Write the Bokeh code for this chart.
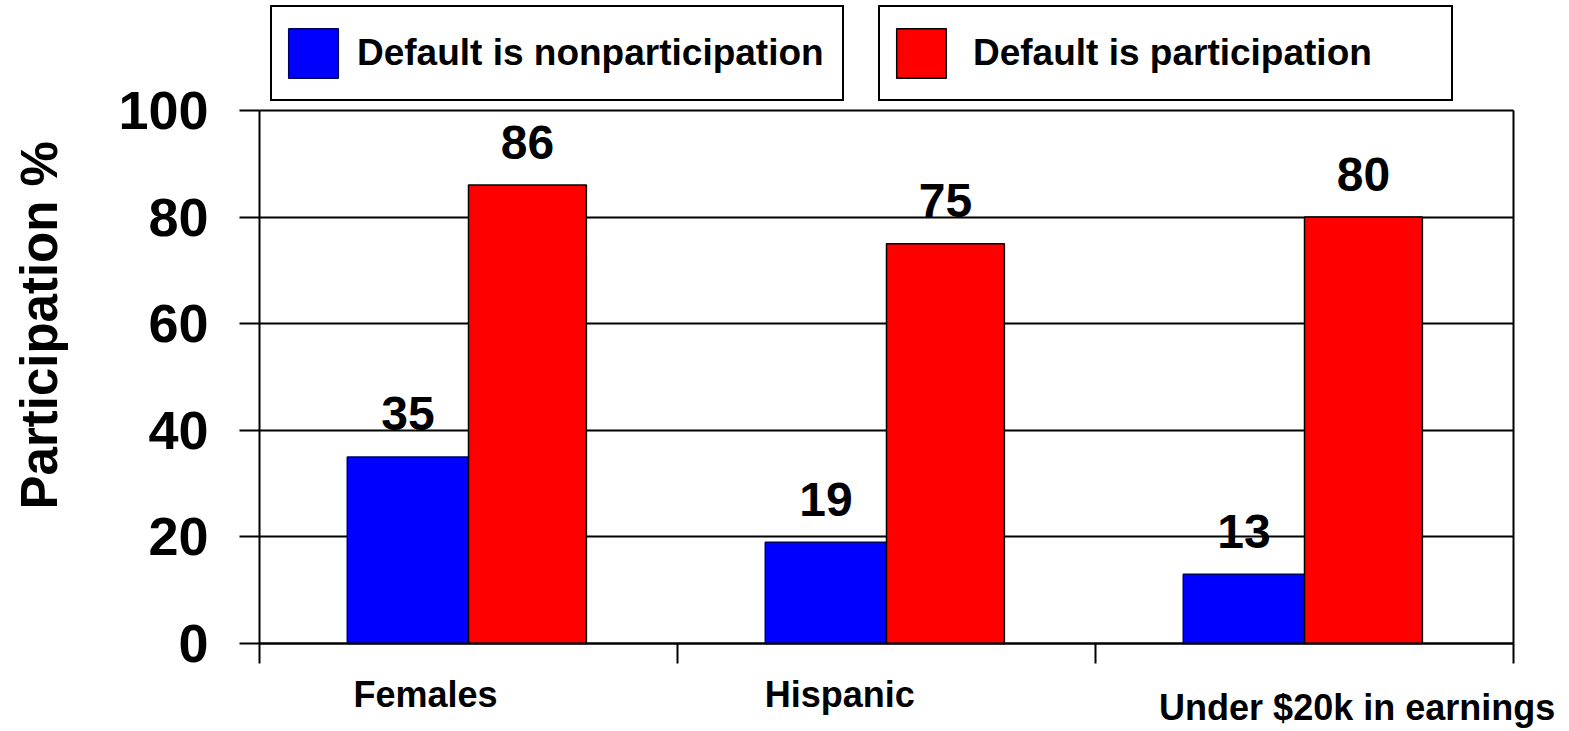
import math
from bokeh.plotting import figure
from bokeh.models import (Range1d, FixedTicker, Legend, LegendItem, LinearAxis,
                          ColumnDataSource)
from bokeh.core.properties import value
from bokeh.embed import file_html
from bokeh.resources import INLINE

# --- data -------------------------------------------------------------
categories = ["Females", "Hispanic", "Under $20k in earnings"]
default_nonparticipation = [35, 19, 13]
default_participation = [86, 75, 80]
y_ticks = [0, 20, 40, 60, 80, 100]
series_names = ["Default is nonparticipation", "Default is participation"]
y_title = "Participation %"

# --- layout -----------------------------------------------------------
W, H = 1569, 731
# plot box in canvas pixels: left, right, top, bottom
BOX_L, BOX_R, BOX_T, BOX_B = 259, 1513, 110, 643
n_cat = len(categories)
y_max = y_ticks[-1]
px_x = (BOX_R - BOX_L) / n_cat
px_y = (BOX_B - BOX_T) / y_max

centers = [i + 0.5 for i in range(n_cat)]
blue_w, red_w = 0.29, 0.282
cat_label_dx = [-0.103, -0.112, 0.126]      # horizontal nudges of the category names
cat_label_y = [-9.6, -9.6, -12.0]            # baseline of the category names (data units)

FONT = "Liberation Sans"

# the frame fills the whole canvas; axes are pinned to the plot box
p = figure(width=W, height=H,
           x_range=Range1d(-BOX_L / px_x, n_cat + (W - BOX_R) / px_x),
           y_range=Range1d(-(H - BOX_B) / px_y, y_max + BOX_T / px_y),
           output_backend="svg", toolbar_location=None, min_border=0)
p.background_fill_color = "white"
p.border_fill_color = "white"
p.outline_line_color = None

# horizontal grid lines (the one at 100 closes the box on top)
p.xgrid.visible = False
yg = p.ygrid[0]
if "cross_bounds" in yg.properties():
    yg.ticker = FixedTicker(ticks=y_ticks)
    yg.cross_bounds = (0, n_cat)
    yg.grid_line_color = "black"
    yg.grid_line_width = 2
else:
    yg.visible = False
    p.segment(x0=0, x1=n_cat, y0=y_ticks, y1=y_ticks,
              line_color="black", line_width=2)

# bars
src_np = ColumnDataSource(dict(
    x=[c - blue_w / 2 for c in centers],
    top=default_nonparticipation,
    label=[str(v) for v in default_nonparticipation]))
src_p = ColumnDataSource(dict(
    x=[c + red_w / 2 for c in centers],
    top=default_participation,
    label=[str(v) for v in default_participation]))

r_np = p.vbar(x="x", top="top", bottom=0, width=blue_w, source=src_np,
              fill_color="#0000FF", line_color="#000060", line_width=1.5)
r_p = p.vbar(x="x", top="top", bottom=0, width=red_w, source=src_p,
             fill_color="#FF0000", line_color="black", line_width=1.5)

# value labels above each bar
for src in (src_np, src_p):
    p.text(x="x", y="top", text="label", source=src,
           text_align="center", text_baseline="alphabetic", y_offset=-43,
           text_font=value(FONT), text_font_style="bold",
           text_font_size="48px", text_color="black")

# category names under the x axis
cat_src = ColumnDataSource(dict(
    x=[c + d for c, d in zip(centers, cat_label_dx)],
    y=cat_label_y,
    name=categories))
p.text(x="x", y="y", text="name", source=cat_src,
       text_align="center", text_baseline="alphabetic",
       text_font=value(FONT), text_font_style="bold",
       text_font_size="36px", text_color="black")

# vertical axis title
p.text(x=[-0.527], y=[59.7], text=[y_title], angle=math.pi / 2,
       text_align="center", text_baseline="middle",
       text_font=value(FONT), text_font_style="bold",
       text_font_size="51px", text_color="black")

# y axis
ya = p.yaxis[0]
ya.fixed_location = 0
ya.bounds = (0, y_max)
ya.ticker = FixedTicker(ticks=y_ticks)
ya.axis_line_width = 2
ya.major_tick_line_width = 2
ya.major_tick_out = 20
ya.major_tick_in = 0
ya.minor_tick_out = 0
ya.minor_tick_in = 0
ya.major_label_standoff = 31
ya.major_label_text_font = FONT
ya.major_label_text_font_style = "bold"
ya.major_label_text_font_size = "54px"
ya.major_label_text_color = "black"

# x axis: category boundary ticks only
xa = p.xaxis[0]
xa.fixed_location = 0
xa.bounds = (0, n_cat)
xa.ticker = FixedTicker(ticks=list(range(n_cat + 1)))
xa.axis_line_width = 2
xa.major_tick_line_width = 2
xa.major_tick_out = 20
xa.major_tick_in = 0
xa.minor_tick_out = 0
xa.minor_tick_in = 0
xa.major_label_overrides = {i: "" for i in range(n_cat + 1)}

# right edge of the plot box
p.add_layout(LinearAxis(fixed_location=n_cat, bounds=(0, y_max),
                        ticker=FixedTicker(ticks=[]),
                        axis_line_width=2, axis_line_color="black",
                        major_tick_out=0, major_tick_in=0,
                        minor_tick_out=0, minor_tick_in=0), "right")

# two separate legend boxes above the plot area
def make_legend(name, renderer, left, standoff, label_width):
    return Legend(items=[LegendItem(label=name, renderers=[renderer])],
                  location=(left, H - 8 - 93), orientation="vertical",
                  glyph_width=62, glyph_height=62, label_height=72,
                  padding=10, spacing=0, margin=0,
                  label_standoff=standoff, label_width=label_width,
                  label_text_font=FONT, label_text_font_style="bold",
                  label_text_font_size="37px", label_text_color="black",
                  border_line_color="black", border_line_width=2.5,
                  border_line_alpha=1.0,
                  background_fill_color="white", background_fill_alpha=1.0)

p.add_layout(make_legend(series_names[0], r_np, 270, 13, 475))
p.add_layout(make_legend(series_names[1], r_p, 878, 21, 468))

open("out.html", "w").write(file_html(p, INLINE))
